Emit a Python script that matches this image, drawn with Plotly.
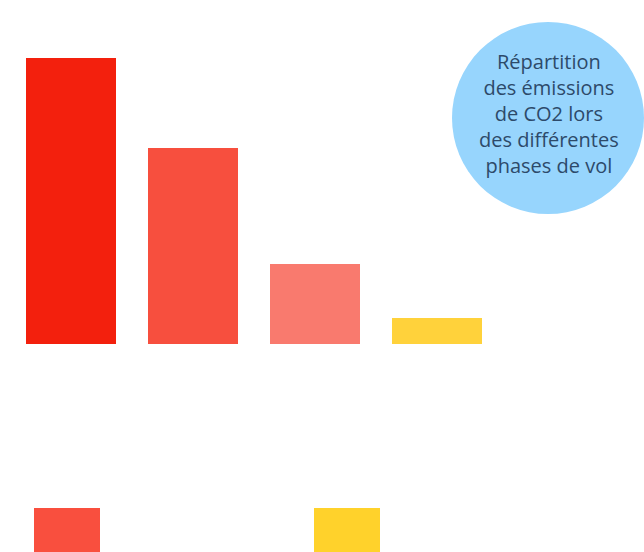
import plotly.graph_objects as go

# emissions share per flight phase (%)
phases = ["Croisière", "Montée", "Descente", "Roulage"]
emissions = [48.6, 33.3, 13.6, 4.4]
bar_colors = ["#F3200D", "#F74F3E", "#F97A6E", "#FFD23B"]

legend_colors = ["#F94F3E", "#FFD22B"]

title_lines = [
    "Répartition",
    "des émissions",
    "de CO2 lors",
    "des différentes",
    "phases de vol",
]

W, H = 644, 552


def px(x):
    return x / W


def py(y):
    return 1 - y / H


fig = go.Figure()

fig.add_trace(
    go.Bar(
        x=list(range(len(phases))),
        y=emissions,
        marker={"color": bar_colors, "line": {"width": 0}},
        width=90 / 122,
        hovertext=phases,
        showlegend=False,
    )
)

# bubble holding the title
fig.add_shape(
    type="circle", xref="paper", yref="paper",
    x0=px(452), x1=px(644), y0=py(214), y1=py(22),
    fillcolor="#97D5FD", line={"width": 0}, layer="below",
)

fig.add_annotation(
    text="<br>".join(title_lines),
    xref="paper", yref="paper", x=px(549), y=py(113),
    xanchor="center", yanchor="middle", showarrow=False, align="center",
    font={"family": "Open Sans", "size": 20, "color": "#2D4A6A"},
)

# legend swatches (cut by the bottom edge)
for i, c in enumerate(legend_colors):
    left = 34 + i * 280
    fig.add_shape(
        type="rect", xref="paper", yref="paper",
        x0=px(left), x1=px(left + 66), y0=-0.05, y1=py(508),
        fillcolor=c, line={"width": 0},
    )

fig.update_layout(
    width=W,
    height=H,
    margin={"l": 0, "r": 0, "t": 0, "b": 0},
    plot_bgcolor="white",
    paper_bgcolor="white",
    xaxis={
        "range": [-71 / 122, (W - 71) / 122],
        "visible": False,
    },
    yaxis={
        "domain": [py(344), 1],
        "range": [0, 344 * 48.6 / 286],
        "visible": False,
    },
)

# drop the page's default body margin so the figure sits at 0,0
fig.write_html(
    "out.html",
    config={"displayModeBar": False},
    post_script="document.body.style.margin='0';document.body.style.overflow='hidden';",
)
